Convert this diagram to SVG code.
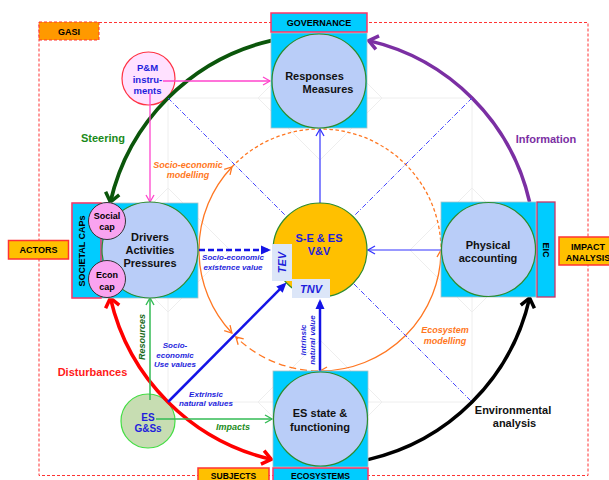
<svg xmlns="http://www.w3.org/2000/svg" width="609" height="480" viewBox="0 0 609 480">
<style>
text{font-family:"Liberation Sans",Arial,Helvetica,sans-serif;font-weight:bold;text-anchor:middle}
.k{fill:#111;font-size:11px}
.lb{fill:#000;font-size:9px}
.bi{fill:#1E1EDC;font-size:8px;font-style:italic}
.bt{fill:#1E1EDC;font-size:9.5px}
.or{fill:#FF7722;font-size:9px;font-style:italic}
.cy{fill:#00CCFF;stroke:#A8C4C8;stroke-width:0.8}
.nc{fill:#B9CDF8;stroke:#2E8B2E;stroke-width:1.2}
.tag{fill:#FFC000;stroke:#FF3333;stroke-width:1.5}
.ptag{fill:#00CCFF;stroke:#FF3366;stroke-width:1.5}
.grid{fill:none;stroke:#EEEEEE;stroke-width:1}
.cap{fill:#F9A3F0;stroke:#333;stroke-width:1}
.dd{fill:none;stroke:#4444FF;stroke-width:1;stroke-dasharray:5,2,1,2}
.orl{fill:none;stroke:#FF7722;stroke-width:1.3}
</style>
<defs>
<marker id="mSteer" markerUnits="userSpaceOnUse" markerWidth="20" markerHeight="20" viewBox="-14 -10 20 20" refX="0" refY="0" orient="auto" overflow="visible"><path d="M-9,-7 L0,0 L-9,7" fill="none" stroke="#0B560B" stroke-width="3.5"/></marker>
<marker id="mInfo" markerUnits="userSpaceOnUse" markerWidth="20" markerHeight="20" viewBox="-14 -10 20 20" refX="0" refY="0" orient="auto" overflow="visible"><path d="M-9,-7 L0,0 L-9,7" fill="none" stroke="#7B2FA3" stroke-width="3.5"/></marker>
<marker id="mEnv" markerUnits="userSpaceOnUse" markerWidth="20" markerHeight="20" viewBox="-14 -10 20 20" refX="0" refY="0" orient="auto" overflow="visible"><path d="M-9,-7 L0,0 L-9,7" fill="none" stroke="#000" stroke-width="3.5"/></marker>
<marker id="mDist" markerUnits="userSpaceOnUse" markerWidth="20" markerHeight="20" viewBox="-14 -10 20 20" refX="0" refY="0" orient="auto-start-reverse" overflow="visible"><path d="M-9,-7 L0,0 L-9,7" fill="none" stroke="#FF0000" stroke-width="3.5"/></marker>
<marker id="mPink" markerUnits="userSpaceOnUse" markerWidth="12" markerHeight="12" viewBox="-10 -6 12 12" refX="0" refY="0" orient="auto" overflow="visible"><path d="M-7,-4 L0,0 L-7,4" fill="none" stroke="#FF44CC" stroke-width="1.3"/></marker>
<marker id="mBlue" markerUnits="userSpaceOnUse" markerWidth="12" markerHeight="12" viewBox="-10 -6 12 12" refX="0" refY="0" orient="auto" overflow="visible"><path d="M-7,-4 L0,0 L-7,4" fill="none" stroke="#3333FF" stroke-width="1.3"/></marker>
<marker id="mGreen" markerUnits="userSpaceOnUse" markerWidth="12" markerHeight="12" viewBox="-10 -6 12 12" refX="0" refY="0" orient="auto" overflow="visible"><path d="M-7,-4 L0,0 L-7,4" fill="none" stroke="#33BB55" stroke-width="1.4"/></marker>
<marker id="mOr" markerUnits="userSpaceOnUse" markerWidth="12" markerHeight="12" viewBox="-10 -6 12 12" refX="0" refY="0" orient="auto-start-reverse" overflow="visible"><path d="M-7,-4 L0,0 L-7,4" fill="none" stroke="#FF7722" stroke-width="1.3"/></marker>
<marker id="mFill" markerUnits="userSpaceOnUse" markerWidth="14" markerHeight="12" viewBox="-10 -6 14 12" refX="0" refY="0" orient="auto" overflow="visible"><path d="M-7,-4.5 L3,0 L-7,4.5 Z" fill="#1414E6"/></marker>
</defs>
<rect width="609" height="480" fill="#fff"/>

<g id="background-grid" class="grid">
<path d="M168,98 H472 V402 H168 Z"/>
<path d="M258,98 L320,36 L382,98 L320,160 Z"/>
<path d="M106,250 L168,188 L230,250 L168,312 Z"/>
<path d="M410,250 L472,188 L534,250 L472,312 Z"/>
<path d="M258,402 L320,340 L382,402 L320,464 Z"/>
</g>

<g id="gasi-frame">
<rect x="39" y="22.5" width="549" height="453" fill="none" stroke="#FF3333" stroke-width="1" stroke-dasharray="3,2"/>
</g>

<g id="pm-instruments">
<circle cx="148.5" cy="78.5" r="26.5" fill="#FFE1FF" stroke="#FF3344" stroke-width="1.2"/>
<text class="bt" x="147.5" y="70.5">P&amp;M</text>
<text class="bt" x="147.5" y="82.5">instru-</text>
<text class="bt" x="147.5" y="93.5">ments</text>
</g>

<g id="es-goods-services">
<circle cx="148" cy="421" r="27" fill="#C7DDB2" stroke="#44DD44" stroke-width="1.2"/>
<text class="bt" style="font-size:10px" x="148" y="420.5">ES</text>
<text class="bt" style="font-size:10px" x="148" y="432">G&amp;Ss</text>
</g>

<g id="connectors">
<path d="M271.3,40.6 A215,215 0 0 0 110.4,202" fill="none" stroke="#0B560B" stroke-width="3.8" marker-end="url(#mSteer)"/>
<path d="M529.6,202 A215,215 0 0 0 368.7,40.6" fill="none" stroke="#7B2FA3" stroke-width="3.5" marker-end="url(#mInfo)"/>
<path d="M368,459.6 A215,215 0 0 0 529.6,298" fill="none" stroke="#000" stroke-width="3.5" marker-end="url(#mEnv)"/>
<path d="M110.4,298 A215,215 0 0 0 271.3,459.4" fill="none" stroke="#FF0000" stroke-width="3.5" marker-start="url(#mDist)" marker-end="url(#mDist)"/>

<path class="orl" d="M231.9,333 A121,121 0 0 1 231.9,167" marker-start="url(#mOr)" marker-end="url(#mOr)"/>
<path class="orl" d="M441,250 A121,121 0 0 1 320,371" marker-start="url(#mOr)" marker-end="url(#mOr)"/>
<path class="orl" d="M231.9,167 A121,121 0 0 1 441,250" stroke-dasharray="3.5,2.5"/>
<path class="orl" d="M318,371 A121,121 0 0 1 235.9,337" stroke-width="1.5" stroke-dasharray="7,4" marker-end="url(#mOr)"/>

<path class="dd" d="M168,98 L286,216"/>
<path class="dd" d="M472,98 L354,216"/>
<path class="dd" d="M354,284 L472,402"/>

<path d="M163,81 H270" fill="none" stroke="#FF44CC" stroke-width="1.3" marker-end="url(#mPink)"/>
<path d="M150,93 V202" fill="none" stroke="#FF44CC" stroke-width="1.3" marker-end="url(#mPink)"/>

<path d="M150,400 V298" fill="none" stroke="#33BB55" stroke-width="1.5" marker-end="url(#mGreen)"/>
<path d="M156,419 H272" fill="none" stroke="#33BB55" stroke-width="1.5" marker-end="url(#mGreen)"/>

<path d="M320,203 V129" fill="none" stroke="#3333FF" stroke-width="1.2" marker-end="url(#mBlue)"/>
<path d="M441,250 H368" fill="none" stroke="#3333FF" stroke-width="1.2" marker-end="url(#mBlue)"/>
<path d="M199,250 H268" fill="none" stroke="#1414E6" stroke-width="2.5" stroke-dasharray="6,3" marker-end="url(#mFill)"/>
<path d="M168,402 L284.4,284.6" fill="none" stroke="#1414E6" stroke-width="2.5" marker-end="url(#mFill)"/>
<path d="M320,371 V302" fill="none" stroke="#1414E6" stroke-width="2.5" marker-end="url(#mFill)"/>
</g>

<g id="responses">
<rect class="cy" x="271" y="33" width="96" height="95"/>
<circle class="nc" cx="319" cy="81" r="47"/>
<text class="k" x="314.5" y="80">Responses</text>
<text class="k" x="328" y="92.5">Measures</text>
</g>

<g id="drivers">
<rect class="cy" x="72" y="203" width="126" height="95"/>
<rect x="72" y="203" width="29" height="95" fill="#00CCFF" stroke="#FF3366" stroke-width="1.5"/>
<text class="lb" transform="translate(85,251) rotate(-90)">SOCIETAL CAPs</text>
<circle class="nc" cx="150" cy="250" r="48"/>
<text class="k" x="150" y="241">Drivers</text>
<text class="k" x="150" y="254">Activities</text>
<text class="k" x="150" y="267">Pressures</text>
<g id="social-cap">
<circle class="cap" cx="107" cy="221" r="18.5"/>
<text class="lb" x="107" y="219">Social</text>
<text class="lb" x="107" y="229.5">cap</text>
</g>
<g id="econ-cap">
<circle class="cap" cx="107" cy="279" r="18.5"/>
<text class="lb" x="107" y="278">Econ</text>
<text class="lb" x="107" y="289.5">cap</text>
</g>
</g>

<g id="valuation">
<circle cx="320" cy="250" r="47" fill="#FFC000" stroke="#2E8B2E" stroke-width="1.2"/>
<text class="bt" style="font-size:11px" x="319" y="242">S-E &amp; ES</text>
<text class="bt" style="font-size:11px" x="319" y="255">V&amp;V</text>
<rect x="272" y="244" width="20" height="37" fill="#DCE6F8"/>
<text class="bt" style="font-size:11px;font-style:italic" transform="translate(286,262.5) rotate(-90)">TEV</text>
<rect x="292" y="279" width="38" height="19" fill="#DCE6F8"/>
<text class="bt" style="font-size:11px;font-style:italic" x="311" y="293">TNV</text>
</g>

<g id="physical-accounting">
<rect class="cy" x="441" y="202" width="95" height="95"/>
<circle class="nc" cx="488.5" cy="249.5" r="47"/>
<text class="k" x="488" y="249">Physical</text>
<text class="k" x="488" y="262">accounting</text>
</g>

<g id="eic">
<rect x="537" y="202" width="18" height="95" fill="#00CCFF" stroke="#CC3366" stroke-width="1.3"/>
<text class="lb" transform="translate(543,250) rotate(90)">EIC</text>
</g>

<g id="es-state">
<rect class="cy" x="273" y="371" width="95" height="96"/>
<circle class="nc" cx="320.5" cy="419" r="47"/>
<text class="k" x="320" y="417">ES state &amp;</text>
<text class="k" x="320" y="431">functioning</text>
</g>

<g id="gasi"><rect x="39" y="22" width="60" height="18" fill="#FF9900" stroke="#FF3333" stroke-dasharray="3,2"/><text class="lb" x="69" y="34.5">GASI</text></g>
<g id="governance"><rect class="ptag" x="271" y="13" width="96" height="19"/><text class="lb" x="319" y="26">GOVERNANCE</text></g>
<g id="actors"><rect class="tag" x="8.5" y="240.5" width="60" height="18.5"/><text class="lb" x="38.5" y="253">ACTORS</text></g>
<g id="impact-analysis"><rect class="tag" x="559" y="237" width="55" height="28"/><text class="lb" x="588" y="249.5">IMPACT</text><text class="lb" x="588" y="261">ANALYSIS</text></g>
<g id="subjects"><rect class="tag" x="198" y="468" width="71" height="16"/><text class="lb" style="font-size:8.5px" x="233.5" y="478.5">SUBJECTS</text></g>
<g id="ecosystems"><rect class="ptag" x="273" y="468" width="95" height="16"/><text class="lb" style="font-size:8.5px" x="320.5" y="478.5">ECOSYSTEMS</text></g>

<g id="connector-labels">
<text x="103" y="142" style="fill:#1A8A1A;font-size:11px">Steering</text>
<text x="546" y="143" style="fill:#7B2FA3;font-size:11px">Information</text>
<text x="92.5" y="376" style="fill:#FF1A1A;font-size:11px">Disturbances</text>
<text x="513" y="414" style="fill:#111;font-size:11px">Environmental</text>
<text x="514.5" y="427" style="fill:#111;font-size:11px">analysis</text>
<text class="or" x="188" y="168">Socio-economic</text>
<text class="or" x="188" y="178">modelling</text>
<text class="or" x="445" y="333">Ecosystem</text>
<text class="or" x="445" y="344">modelling</text>
<text class="bi" x="233" y="260">Socio-economic</text>
<text class="bi" x="233" y="270">existence value</text>
<text class="bi" x="175" y="348">Socio-</text>
<text class="bi" x="175" y="358">economic</text>
<text class="bi" x="175" y="367">Use values</text>
<text class="bi" x="206" y="397">Extrinsic</text>
<text class="bi" x="206" y="406">natural values</text>
<text x="233" y="430" style="fill:#228B22;font-size:9px;font-style:italic">Impacts</text>
<text transform="translate(145,337) rotate(-90)" style="fill:#1A6A1A;font-size:9px;font-style:italic">Resources</text>
<text class="bi" transform="translate(306,340) rotate(-90)">Intrinsic</text>
<text class="bi" transform="translate(315,340) rotate(-90)">natural value</text>
</g>
</svg>
